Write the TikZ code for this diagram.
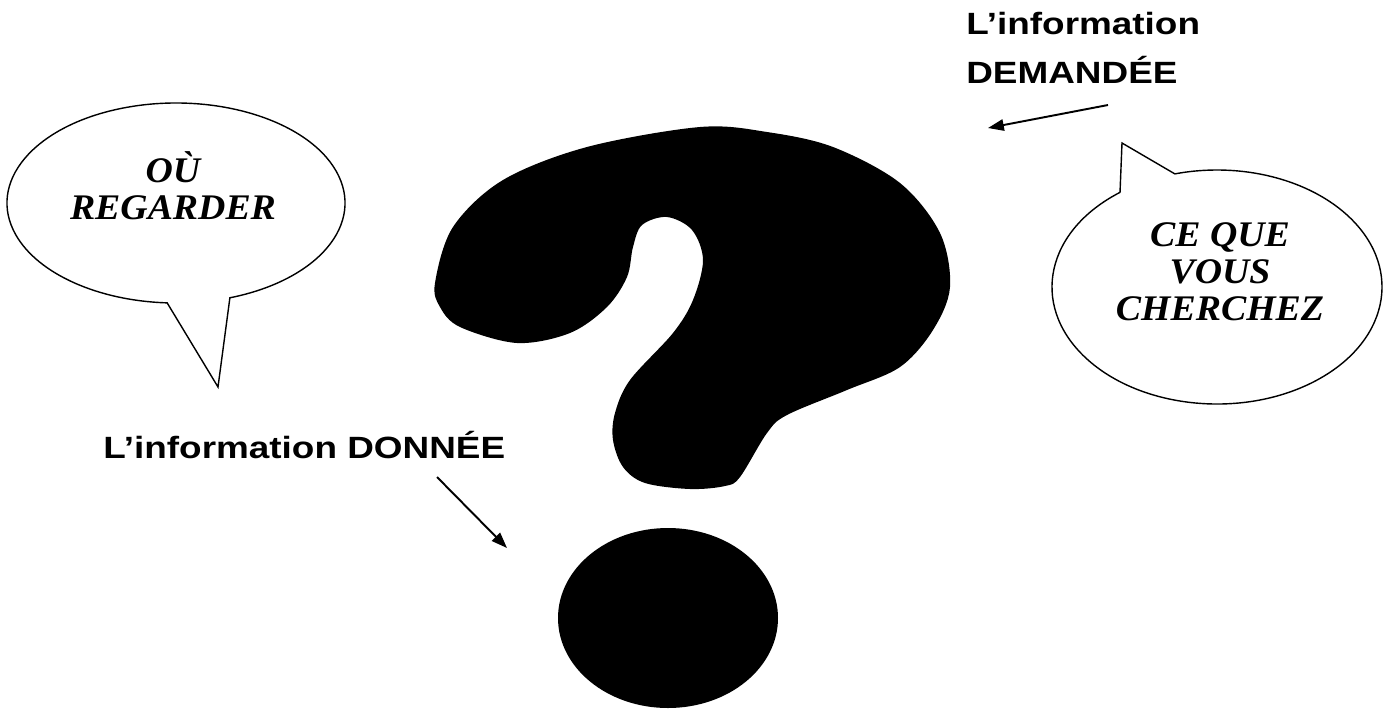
\documentclass[tikz,border=0pt]{standalone}
\usepackage{fontspec}
\setmainfont{Liberation Serif}
\newfontfamily\labelfont[FakeStretch=1.2]{Liberation Sans}
\newfontfamily\bubblefont[FakeStretch=1.05]{Liberation Serif}
\usetikzlibrary{arrows.meta, positioning}
\tikzset{
  every picture/.style={x=0.02cm, y=0.02cm},
  bubble/.style={draw=black, fill=white, line width=0.8pt},
  bubbletext/.style={font=\bubblefont\bfseries\itshape\fontsize{20.5}{21}\selectfont, align=center},
  infolabel/.style={font=\labelfont\bfseries\fontsize{17.5}{27.8}\selectfont, inner sep=0pt},
  pointer/.style={-{Triangle[length=9pt, width=6.5pt]}, line width=1.1pt},
  qmark/.style={fill=black},
}
\begin{document}
\begin{tikzpicture}
  % pixel grid of the page: x to the right, y downwards as negative values
  \useasboundingbox (0,0) rectangle (1387,-708);
  % the big question mark
  \fill[qmark] plot[smooth cycle, tension=0.55] coordinates {
    (435,-283) (440,-307) (460,-327) (517,-343) (570,-333) (607,-307) (627,-277) (633,-247)
    (642,-225) (667,-217) (692,-230) (703,-260) (693,-300) (673,-333) (630,-380) (615,-413)
    (613,-440) (623,-467) (645,-483) (690,-489) (725,-486) (740,-477) (767,-433) (787,-415)
    (847,-390) (900,-367) (933,-330) (950,-287) (940,-233) (900,-183) (833,-147) (767,-132)
    (700,-127) (587,-147) (503,-180) (453,-227)};
  \fill[qmark] (668,-618) ellipse[x radius=110, y radius=90];
  % speech bubbles
  \coordinate (lbc) at (176,-203);
  \draw[bubble] (lbc) ++(-71.4:169 and 100) arc[start angle=-71.4, end angle=267, x radius=169, y radius=100] -- (218,-387) -- cycle;
  \coordinate (rbc) at (1217,-287);
  \draw[bubble] (rbc) ++(126:165 and 117) arc[start angle=126, end angle=464.8, x radius=165, y radius=117] -- (1122,-143) -- cycle;
  \node[bubbletext] (where) at (173,-186) {OÙ\\REGARDER};
  \node[bubbletext] (what) at (1220,-272) {CE QUE\\VOUS\\CHERCHEZ};
  % labels and their arrows
  \node[infolabel, anchor=base west] (given) at (103,-458) {L’information DONNÉE};
  \node[infolabel, anchor=north west, align=left] (asked) at (966,-12) {L’information\\DEMANDÉE};
  \coordinate (givenFrom) at (437,-477);
  \coordinate (givenTo) at (507,-548);
  \coordinate (askedFrom) at (1108,-105);
  \coordinate (askedTo) at (988,-128);
  \draw[pointer] (givenFrom) -- (givenTo);
  \draw[pointer] (askedFrom) -- (askedTo);
\end{tikzpicture}
\end{document}
